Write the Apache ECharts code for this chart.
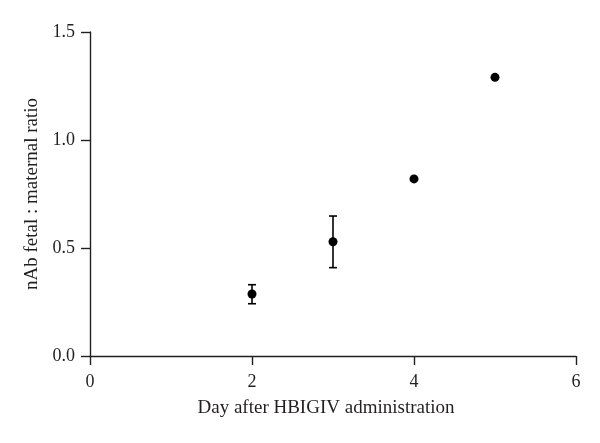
<!DOCTYPE html>
<html>
<head>
<meta charset="utf-8">
<script src="https://cdn.jsdelivr.net/npm/echarts@6/dist/echarts.min.js"></script>
<style>html,body{margin:0;padding:0;background:#fff}#c{width:600px;height:443px}</style>
</head>
<body>
<div id="c"></div>
<script>
var days = [2, 3, 4, 5];
var ratioMean = [0.287, 0.529, 0.820, 1.290];
var ratioLow = [0.242, 0.409, 0.820, 1.290];
var ratioHigh = [0.330, 0.648, 0.820, 1.290];
var xTicks = [0, 2, 4, 6];
var yTicks = [0.0, 0.5, 1.0, 1.5];

var FONT = '"Liberation Serif", "DejaVu Serif", serif';
var chart = echarts.init(document.getElementById('c'), null, {renderer: 'canvas'});

var points = days.map(function (d, i) { return [d, ratioMean[i]]; });
var bars = days.map(function (d, i) { return [d, ratioLow[i], ratioHigh[i]]; })
  .filter(function (r) { return r[2] - r[1] > 0.001; });

chart.setOption({
  animation: false,
  backgroundColor: '#fff',
  grid: {left: 90, right: 24, top: 32, bottom: 87, containLabel: false},
  xAxis: {
    type: 'value', min: 0, max: 6, interval: 2,
    name: 'Day after HBIGIV administration',
    nameLocation: 'middle', nameGap: 43,
    nameTextStyle: {fontFamily: FONT, fontSize: 19, color: '#231f20', padding: [0, 14, 0, 0]},
    axisLine: {show: true, onZero: false, lineStyle: {color: '#231f20', width: 1.4}},
    axisTick: {show: true, length: 9, lineStyle: {color: '#231f20', width: 1.4}},
    axisLabel: {fontFamily: FONT, fontSize: 18, color: '#231f20', margin: 17,
      formatter: function (v) { return String(v); }},
    splitLine: {show: false}
  },
  yAxis: {
    type: 'value', min: 0, max: 1.5, interval: 0.5,
    name: 'nAb fetal : maternal ratio',
    nameLocation: 'middle', nameGap: 48, nameRotate: 90,
    nameTextStyle: {fontFamily: FONT, fontSize: 19, color: '#231f20'},
    axisLine: {show: true, onZero: false, lineStyle: {color: '#231f20', width: 1.4}},
    axisTick: {show: true, length: 9, lineStyle: {color: '#231f20', width: 1.4}},
    axisLabel: {fontFamily: FONT, fontSize: 18, color: '#231f20', margin: 15,
      formatter: function (v) { return v.toFixed(1); }},
    splitLine: {show: false}
  },
  series: [
    {
      type: 'custom',
      data: bars,
      z: 2,
      renderItem: function (params, api) {
        var x = api.value(0);
        var lo = api.coord([x, api.value(1)]);
        var hi = api.coord([x, api.value(2)]);
        var hw = 4;
        var st = {stroke: '#000', lineWidth: 1.6};
        return {
          type: 'group',
          children: [
            {type: 'line', shape: {x1: lo[0], y1: lo[1], x2: hi[0], y2: hi[1]}, style: st},
            {type: 'line', shape: {x1: lo[0] - hw, y1: lo[1], x2: lo[0] + hw, y2: lo[1]}, style: st},
            {type: 'line', shape: {x1: hi[0] - hw, y1: hi[1], x2: hi[0] + hw, y2: hi[1]}, style: st}
          ]
        };
      }
    },
    {
      type: 'scatter',
      data: points,
      symbol: 'circle',
      symbolSize: 9,
      z: 3,
      itemStyle: {color: '#000', opacity: 1}
    }
  ]
});
</script>
</body>
</html>
